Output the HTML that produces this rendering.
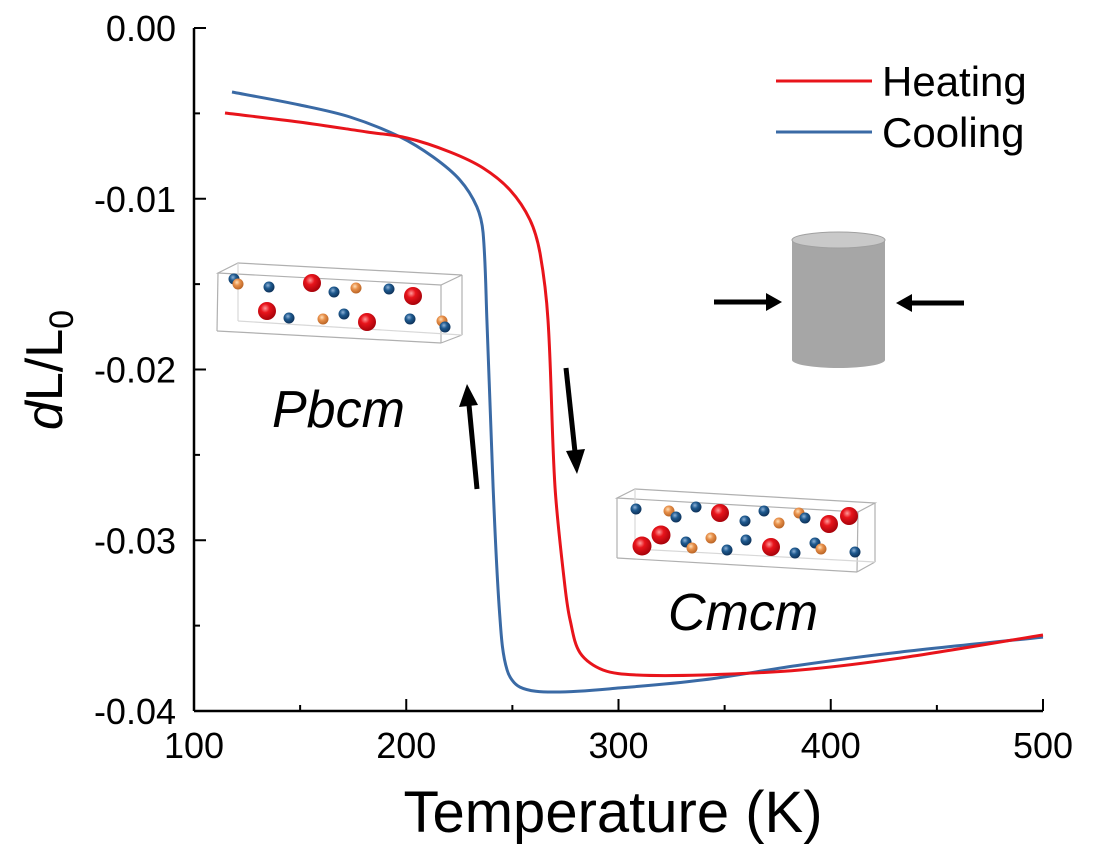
<!DOCTYPE html>
<html><head><meta charset="utf-8"><style>
html,body{margin:0;padding:0;background:#fff;}
svg{display:block;font-family:"Liberation Sans",Arial,sans-serif;}
</style></head><body>
<svg id="chart" width="1100" height="856" viewBox="0 0 1100 856" xmlns="http://www.w3.org/2000/svg">
<defs>
<radialGradient id="gRed" cx="0.4" cy="0.35" r="0.7"><stop offset="0" stop-color="#ff9a9a"/><stop offset="0.35" stop-color="#e8141b"/><stop offset="1" stop-color="#a00008"/></radialGradient>
<radialGradient id="gBlue" cx="0.4" cy="0.35" r="0.7"><stop offset="0" stop-color="#8fb2d8"/><stop offset="0.4" stop-color="#1f5a8f"/><stop offset="1" stop-color="#0b2c52"/></radialGradient>
<radialGradient id="gOr" cx="0.4" cy="0.35" r="0.7"><stop offset="0" stop-color="#ffe0b8"/><stop offset="0.4" stop-color="#e8904a"/><stop offset="1" stop-color="#b35e20"/></radialGradient>
</defs>
<g id="axes"></g>
<g id="series"></g>
<g>
<line x1="776" y1="81" x2="872" y2="81" stroke="#e8141b" stroke-width="3"/>
<text x="882" y="96" font-size="42">Heating</text>
<line x1="776" y1="132" x2="872" y2="132" stroke="#3a6aa5" stroke-width="3"/>
<text x="882" y="147" font-size="42">Cooling</text>
</g>
<g fill="none" stroke="#b0b0b0" stroke-width="1.2">
<polygon points="218,273 238,263 462,275 441,285" />
<line x1="218" y1="273" x2="217" y2="331"/><line x1="441" y1="285" x2="441" y2="343"/><line x1="462" y1="275" x2="462" y2="335"/>
<line x1="217" y1="331" x2="441" y2="343"/><line x1="441" y1="343" x2="462" y2="335"/>
<line x1="238" y1="263" x2="238" y2="321" stroke="#d8d8d8"/><line x1="238" y1="321" x2="462" y2="335" stroke="#d8d8d8"/>
</g>
<g id="pbcm-atoms"></g>
<g fill="none" stroke="#b0b0b0" stroke-width="1.2">
<polygon points="617,498 635,489 875,503 858,512"/>
<line x1="617" y1="498" x2="617" y2="558"/><line x1="858" y1="512" x2="857" y2="572"/><line x1="875" y1="503" x2="875" y2="562"/>
<line x1="617" y1="558" x2="857" y2="572"/><line x1="857" y1="572" x2="875" y2="562"/>
<line x1="635" y1="489" x2="635" y2="549" stroke="#d8d8d8"/><line x1="635" y1="549" x2="875" y2="562" stroke="#d8d8d8"/>
</g>
<g id="cmcm-atoms"></g>
<text x="272" y="427" font-size="52" font-style="italic">Pbcm</text>
<text x="668" y="630" font-size="52" font-style="italic">Cmcm</text>
<g>
<line x1="477" y1="489" x2="469" y2="405" stroke="#000" stroke-width="5"/>
<polygon points="467,384 459,407 478,405" fill="#000"/>
</g>
<g>
<line x1="566" y1="368" x2="575" y2="452" stroke="#000" stroke-width="5"/>
<polygon points="577,474 566,451 585,449" fill="#000"/>
</g>
<g>
<path d="M792,240 L792,360 A46.5,8 0 0 0 885,360 L885,240 Z" fill="#a6a6a6"/>
<ellipse cx="838.5" cy="240" rx="46.5" ry="8" fill="#c9c9c9" stroke="#a0a0a0" stroke-width="1"/>
</g>
<g>
<line x1="714" y1="302" x2="768" y2="302" stroke="#000" stroke-width="5"/>
<polygon points="782,302 766,293 766,311" fill="#000"/>
</g>
<g>
<line x1="964" y1="303" x2="910" y2="303" stroke="#000" stroke-width="5"/>
<polygon points="896,303 912,294 912,312" fill="#000"/>
</g>
<text x="613" y="832" font-size="58" text-anchor="middle">Temperature (K)</text>
<text transform="translate(62,370) rotate(-90)" font-size="52" text-anchor="middle"><tspan font-style="italic">d</tspan>L/L<tspan font-size="34" dy="11">0</tspan></text>
</svg>
<script>
const xTicks=[100,200,300,400,500];
const xMinor=[150,250,350,450];
const yTicks=[0,-0.01,-0.02,-0.03,-0.04];
const yTickLabels=["0.00","-0.01","-0.02","-0.03","-0.04"];
const yMinor=[-0.005,-0.015,-0.025,-0.035];
const heatT=[114.6,149.9,181.5,200.4,220.6,236.2,248.9,258.3,263.0,266.8,270.1,274.8,277.2,281.9,292.7,308.7,339.8,385.5,432.6,500];
const heatV=[-0.00498,-0.00551,-0.00609,-0.00644,-0.00726,-0.00820,-0.00949,-0.01124,-0.01318,-0.01710,-0.02688,-0.03274,-0.03467,-0.03660,-0.03760,-0.03789,-0.03789,-0.03760,-0.03690,-0.03555];
const coolT=[117.9,149.9,173.5,197.1,212.6,225.3,233.3,236.2,238.0,240.9,244.2,247.5,253.6,269.1,300.7,339.8,385.5,432.6,500];
const coolV=[-0.00375,-0.00451,-0.00521,-0.00638,-0.00755,-0.00890,-0.01048,-0.01200,-0.01710,-0.02688,-0.03467,-0.03760,-0.03860,-0.03889,-0.03865,-0.03818,-0.03731,-0.03655,-0.03567];
const pbcmAtoms=[["b",234,279,5.5],["o",238,284,5.5],["b",269,287,5.5],["r",312,283,9],["b",334,292,5.5],["o",356,288,5.5],["b",389,289,5.5],["r",413,296,9],["r",267,311,9],["b",289,318,5.5],["o",323,319,5.5],["b",344,314,5.5],["r",367,322,9],["b",410,319,5.5],["o",442,321,5.5],["b",445,327,5.5]];
const cmcmAtoms=[["b",636,509,5.5],["o",669,511,5.5],["b",676,517,5.5],["b",696,507,5.5],["r",720,513,9],["b",745,521,5.5],["b",764,511,5.5],["o",779,523,5.5],["o",799,513,5.5],["b",805,518,5.5],["r",829,524,9],["r",849,516,9],["r",642,546,9.5],["r",661,535,9.5],["b",686,542,5.5],["o",692,548,5.5],["o",711,538,5.5],["b",727,550,5.5],["b",746,540,5.5],["r",771,547,9],["b",795,553,5.5],["b",815,543,5.5],["o",821,549,5.5],["b",855,552,5.5]];
const NS="http://www.w3.org/2000/svg";
const X0=194,X1=1043,Y0=28,Y1=711;
function xs(t){return X0+(t-100)/400*(X1-X0);}
function ys(v){return Y0+(v-0)/(-0.04)*(Y1-Y0);}
function mk(tag,attrs,parent){const e=document.createElementNS(NS,tag);for(const k in attrs)e.setAttribute(k,attrs[k]);parent.appendChild(e);return e;}
const axes=document.getElementById('axes');
let e=mk('line',{x1:X0,y1:Y0,x2:X0,y2:Y1,stroke:'#000','stroke-width':2.5},axes);


e=mk('line',{x1:X0,y1:Y1,x2:X1,y2:Y1,stroke:'#000','stroke-width':2.5},axes);


xTicks.forEach(t=>{
 const l=mk('line',{x1:xs(t),y1:Y1,x2:xs(t),y2:Y1-12,stroke:'#000','stroke-width':2},axes);
 
 
 const tx=mk('text',{x:xs(t),y:758,'font-size':36,'text-anchor':'middle'},axes);
 tx.textContent=t;
 
 
});
xMinor.forEach(t=>{
 const l=mk('line',{x1:xs(t),y1:Y1,x2:xs(t),y2:Y1-6,stroke:'#000','stroke-width':2},axes);
 
 
});
yTicks.forEach((v,i)=>{
 const l=mk('line',{x1:X0,y1:ys(v),x2:X0+12,y2:ys(v),stroke:'#000','stroke-width':2},axes);
 
 
 const tx=mk('text',{x:176,y:ys(v)+13,'font-size':36,'text-anchor':'end'},axes);
 tx.textContent=yTickLabels[i];
 
 
});
yMinor.forEach(v=>{
 const l=mk('line',{x1:X0,y1:ys(v),x2:X0+6,y2:ys(v),stroke:'#000','stroke-width':2},axes);
 
 
});
// Catmull-Rom spline in screen space with chord-length parameterisation
function smooth(T,V){
 const p=T.map((t,i)=>[xs(t),ys(V[i])]);
 let d='M'+p[0][0].toFixed(1)+','+p[0][1].toFixed(1);
 for(let i=0;i<p.length-1;i++){
  const a=p[Math.max(0,i-1)],b=p[i],c=p[i+1],n=p[Math.min(p.length-1,i+2)];
  const L=(u,v)=>Math.hypot(v[0]-u[0],v[1]-u[1])||1;
  const dbc=L(b,c);
  const t1=[(c[0]-a[0])/(L(a,b)+dbc),(c[1]-a[1])/(L(a,b)+dbc)];
  const t2=[(n[0]-b[0])/(dbc+L(c,n)),(n[1]-b[1])/(dbc+L(c,n))];
  const k=dbc/3;
  d+=' C'+(b[0]+t1[0]*k).toFixed(1)+','+(b[1]+t1[1]*k).toFixed(1)+' '+(c[0]-t2[0]*k).toFixed(1)+','+(c[1]-t2[1]*k).toFixed(1)+' '+c[0].toFixed(1)+','+c[1].toFixed(1);
 }
 return d;
}
const series=document.getElementById('series');
e=mk('path',{d:smooth(coolT,coolV),fill:'none',stroke:'#3a6aa5','stroke-width':3},series);


e=mk('path',{d:smooth(heatT,heatV),fill:'none',stroke:'#e8141b','stroke-width':3},series);


const grad={r:'url(#gRed)',b:'url(#gBlue)',o:'url(#gOr)'};
function atoms(list,id){
 const g=document.getElementById(id);
 list.forEach(a=>{
  const c=mk('circle',{cx:a[1],cy:a[2],r:a[3],fill:grad[a[0]]},g);
  
  
 });
}
atoms(pbcmAtoms,'pbcm-atoms');
atoms(cmcmAtoms,'cmcm-atoms');
</script>
</body></html>
